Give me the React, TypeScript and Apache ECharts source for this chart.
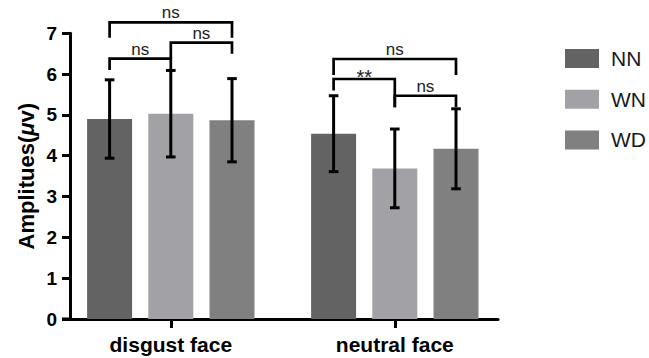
import React, { useEffect, useRef } from 'react';
import * as echarts from 'echarts';

// ---- data ----
const categories = ['disgust face', 'neutral face'];
const groups = ['NN', 'WN', 'WD'];
const nnMean = [4.9, 4.54];
const wnMean = [5.03, 3.69];
const wdMean = [4.87, 4.17];
const nnErr = [0.96, 0.93];
const wnErr = [1.06, 0.965];
const wdErr = [1.02, 0.98];
const yTicks = [0, 1, 2, 3, 4, 5, 6, 7];

// significance brackets
const bracketCat = [0, 0, 0, 1, 1, 1];
const bracketFrom = [0, 0, 1, 0, 0, 1];
const bracketTo = [2, 1, 2, 2, 1, 2];
const bracketTop = [7.27, 6.38, 6.77, 6.37, 5.88, 5.47];
const bracketLeftEnd = [6.89, 6.1, 6.38, 5.98, 5.6, 5.19];
const bracketRightEnd = [6.89, 6.05, 6.5, 5.98, 5.19, 5.19];
const bracketLabel = ['ns', 'ns', 'ns', 'ns', '**', 'ns'];

// ---- style / layout ----
const FONT = '"Liberation Sans", Arial, Helvetica, sans-serif';
const colors = ['#636363', '#a2a1a6', '#808080'];
const BAR_W = 45;
const BAR_GAP = 0.36;
const barOffset = (i: number) => (i - 1) * BAR_W * (1 + BAR_GAP);
// category positions on the x value axis are 1 and 2
const catPos = categories.map((_, c) => c + 1);
const X_MIN = 0.55;
const X_MAX = 2.4607;

const means = [nnMean, wnMean, wdMean];
const errs = [nnErr, wnErr, wdErr];

function buildOption(): any {
  const barSeries = groups.map((g, i) => ({
    type: 'bar',
    name: g,
    data: categories.map((_, c) => [catPos[c], means[i][c]]),
    barWidth: BAR_W,
    barGap: `${BAR_GAP * 100}%`,
    itemStyle: { color: colors[i] },
    z: 2,
  }));

  const errSeries = groups.map((g, i) => ({
    type: 'custom',
    name: g + ' err',
    clip: false,
    z: 3,
    data: categories.map((_, c) => [catPos[c], means[i][c], errs[i][c]]),
    renderItem: (params: any, api: any) => {
      const c = api.value(0);
      const m = api.value(1);
      const e = api.value(2);
      const top = api.coord([c, m + e]);
      const bot = api.coord([c, m - e]);
      const x = top[0] + barOffset(i);
      const hw = 4.8;
      const st = { stroke: '#000', lineWidth: 3 };
      return {
        type: 'group',
        children: [
          { type: 'line', shape: { x1: x, y1: top[1], x2: x, y2: bot[1] }, style: st },
          { type: 'line', shape: { x1: x - hw, y1: top[1], x2: x + hw, y2: top[1] }, style: st },
          { type: 'line', shape: { x1: x - hw, y1: bot[1], x2: x + hw, y2: bot[1] }, style: st },
        ],
      };
    },
  }));

  const bracketSeries = {
    type: 'custom',
    name: 'brackets',
    clip: false,
    z: 4,
    data: bracketCat.map((c, k) => [catPos[c], bracketFrom[k], bracketTo[k], bracketTop[k], bracketLeftEnd[k], bracketRightEnd[k]]),
    renderItem: (params: any, api: any) => {
      const c = api.value(0);
      const f = api.value(1);
      const t = api.value(2);
      const topP = api.coord([c, api.value(3)]);
      const lP = api.coord([c, api.value(4)]);
      const rP = api.coord([c, api.value(5)]);
      const x1 = topP[0] + barOffset(f);
      const x2 = topP[0] + barOffset(t);
      const y = topP[1];
      const st = { stroke: '#000', lineWidth: 2.7, lineJoin: 'miter' };
      const label = bracketLabel[params.dataIndex];
      const isStar = label.indexOf('*') >= 0;
      return {
        type: 'group',
        children: [
          {
            type: 'polyline',
            shape: { points: [[x1, lP[1]], [x1, y], [x2, y], [x2, rP[1]]] },
            style: { ...st, fill: 'none' },
          },
          {
            type: 'text',
            x: (x1 + x2) / 2,
            y: isStar ? y + 8 : y - 1,
            style: {
              text: label,
              fill: '#222',
              font: `${isStar ? 20 : 17}px ${FONT}`,
              align: 'center',
              verticalAlign: 'bottom',
            },
          },
        ],
      };
    },
  };

  return {
    animation: false,
    backgroundColor: '#fff',
    grid: { left: 70, right: 151, top: 33.3, bottom: 39, containLabel: false },
    legend: {
      data: groups,
      orient: 'vertical',
      left: 560,
      top: 43,
      icon: 'rect',
      itemWidth: 34,
      itemHeight: 19,
      itemGap: 19.7,
      selectedMode: false,
      textStyle: { fontSize: 21, color: '#1a1a1a', fontFamily: FONT, padding: [0, 0, 0, 7] },
    },
    xAxis: {
      type: 'value',
      min: X_MIN,
      max: X_MAX,
      axisLine: { show: true, onZero: false, lineStyle: { color: '#000', width: 3 } },
      axisTick: { show: true, customValues: catPos, length: 9, lineStyle: { color: '#000', width: 3 } },
      axisLabel: {
        customValues: catPos,
        formatter: (v: number) => categories[Math.round(v) - 1] ?? '',
        fontSize: 21,
        fontWeight: 'bold',
        color: '#000',
        margin: 15,
        fontFamily: FONT,
      },
      splitLine: { show: false },
    },
    yAxis: {
      type: 'value',
      min: yTicks[0],
      max: yTicks[yTicks.length - 1],
      interval: 1,
      axisLine: { show: true, lineStyle: { color: '#000', width: 3 } },
      axisTick: { show: true, length: 8, lineStyle: { color: '#000', width: 3 } },
      axisLabel: { fontSize: 19, fontWeight: 'bold', color: '#000', margin: 13, fontFamily: FONT },
      splitLine: { show: false },
      name: 'Amplitues({i|μ}v)',
      nameLocation: 'middle',
      nameGap: 33,
      nameRotate: 90,
      nameMoveOverlap: false,
      nameTextStyle: {
        fontSize: 22,
        fontWeight: 'bold',
        color: '#000',
        fontFamily: FONT,
        rich: { i: { fontSize: 22, fontWeight: 'bold', fontStyle: 'italic', color: '#000', fontFamily: FONT } },
      },
    },
    graphic: [
      {
        // short stub of the x baseline left of the y axis, as in the original
        type: 'line',
        shape: { x1: 62, y1: 319, x2: 70, y2: 319 },
        style: { stroke: '#000', lineWidth: 3 },
        z: 10,
      },
    ],
    series: [...barSeries, ...errSeries, bracketSeries],
  };
}

export default function App() {
  const ref = useRef<HTMLDivElement>(null);
  useEffect(() => {
    const chart = echarts.init(ref.current!, null, { renderer: 'svg' });
    chart.setOption(buildOption());
    return () => chart.dispose();
  }, []);
  return (
    <div
      ref={ref}
      style={{ position: 'fixed', left: 0, top: 0, width: 649, height: 358, background: '#fff' }}
    />
  );
}
